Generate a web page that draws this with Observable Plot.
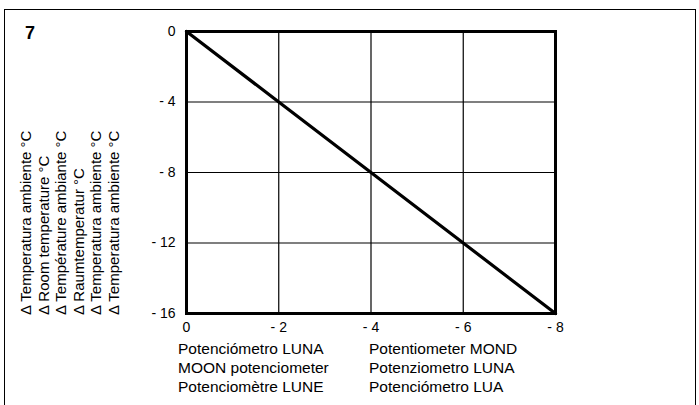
<!DOCTYPE html>
<html><head><meta charset="utf-8">
<script src="https://cdn.jsdelivr.net/npm/d3@7"></script>
<script src="https://cdn.jsdelivr.net/npm/@observablehq/plot@0.6"></script>
<style>
body{margin:0;background:#fff;}
#wrap{position:relative;width:699px;height:405px;overflow:hidden;background:#fff;font-family:"Liberation Sans",Arial,sans-serif;}
#wrap svg{position:absolute;left:0;top:0;}
#border{position:absolute;left:4px;top:9px;width:692px;height:430px;border:1.3px solid #000;box-sizing:border-box;pointer-events:none;}
</style></head><body><div id="wrap"></div>
<script>
// ---- data ----
const figureNumber = "7";
const potentiometer = [0, -2, -4, -6, -8];
const roomDelta = [0, -4, -8, -12, -16];
const xTicks = [0, -2, -4, -6, -8];
const yTicks = [0, -4, -8, -12, -16];
const yAxisLabels = [
  "\u0394 Temperatura ambiente \u00B0C",
  "\u0394 Room temperature \u00B0C",
  "\u0394 Temp\u00E9rature ambiante \u00B0C",
  "\u0394 Raumtemperatur \u00B0C",
  "\u0394 Temperatura ambiente \u00B0C",
  "\u0394 Temperatura ambiente \u00B0C"
];
const xAxisLabelsLeft = ["Potenci\u00F3metro LUNA", "MOON potenciometer", "Potenciom\u00E8tre LUNE"];
const xAxisLabelsRight = ["Potentiometer MOND", "Potenziometro LUNA", "Potenci\u00F3metro LUA"];

const series = potentiometer.map((p, i) => ({x: p, y: roomDelta[i]}));
const fmt = d => d === 0 ? "0" : "- " + Math.abs(d);

const W = 699, H = 405;
const chart = Plot.plot({
  width: W, height: H,
  marginLeft: 186, marginRight: 144, marginTop: 31, marginBottom: 92,
  style: {fontFamily: "'Liberation Sans', Arial, sans-serif", fontSize: "14px", color: "#000", background: "transparent", overflow: "visible"},
  x: {domain: [0, -8], ticks: xTicks, tickFormat: fmt, tickSize: 0, tickPadding: 9, label: null},
  y: {domain: [-16, 0], ticks: yTicks, tickFormat: fmt, tickSize: 0, tickPadding: 11, label: null},
  marks: [
    Plot.gridX(xTicks, {stroke: "#000", strokeOpacity: 1, strokeWidth: 1.2}),
    Plot.gridY(yTicks, {stroke: "#000", strokeOpacity: 1, strokeWidth: 1.2}),
    Plot.line(series, {x: "x", y: "y", stroke: "#000", strokeWidth: 3.2}),
    Plot.frame({stroke: "#000", strokeWidth: 3})
  ]
});
const wrap = document.getElementById("wrap");
wrap.appendChild(chart);
const b = document.createElement("div"); b.id = "border"; wrap.appendChild(b);

const svg = d3.select(chart);
const ff = "'Liberation Sans', Arial, sans-serif";
svg.append("text").text(figureNumber)
  .attr("x", 25).attr("y", 39).attr("font-size", 18).attr("font-weight", "bold")
  .attr("font-family", ff).attr("text-anchor", "start");

const g = svg.append("g").attr("font-family", ff).attr("font-size", 15).attr("text-anchor", "start");
yAxisLabels.forEach((t, i) => {
  g.append("text").text(t)
    .attr("transform", `translate(${31 + 17.5 * i},315) rotate(-90)`)
    .attr("text-anchor", "start");
});
xAxisLabelsLeft.forEach((t, i) => {
  g.append("text").text(t).attr("x", 178).attr("y", 354 + 18.8 * i).attr("font-size", 15.5).attr("text-anchor", "start");
});
xAxisLabelsRight.forEach((t, i) => {
  g.append("text").text(t).attr("x", 369).attr("y", 354 + 18.8 * i).attr("font-size", 15.5).attr("text-anchor", "start");
});
</script></body></html>
